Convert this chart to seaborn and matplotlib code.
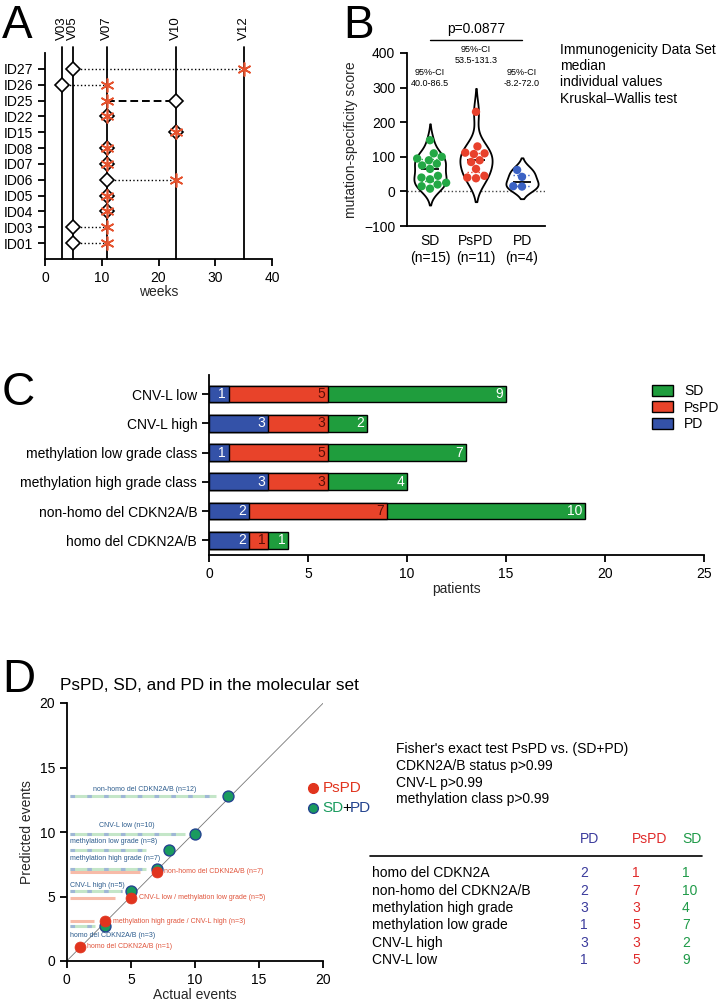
import matplotlib.pyplot as plt
import numpy as np
import pandas as pd
import seaborn as sns
from matplotlib.lines import Line2D
from matplotlib.patches import Patch

# ==========================================================
# Data
# ==========================================================

# Panel A: visit timeline per patient
patient_ids = ["ID01", "ID03", "ID04", "ID05", "ID06", "ID07",
               "ID08", "ID15", "ID22", "ID25", "ID26", "ID27"]
diamond_weeks = [5, 5, 11, 11, 11, 11, 11, 23, 11, 23, 3, 5]
star_weeks = [11, 11, 11, 11, 23, 11, 11, 23, 11, 11, 11, 35]
visit_names = ["V03", "V05", "V07", "V10", "V12"]
visit_weeks = [3, 5, 11, 23, 35]

# Panel B: mutation-specificity score
b_groups = ["SD", "PsPD", "PD"]
b_counts = [15, 11, 4]
sd_scores = [148, 110, 100, 95, 90, 80, 75, 65, 45, 40, 35, 25, 20, 15, 8]
pspd_scores = [230, 130, 112, 110, 108, 90, 85, 65, 45, 40, 38]
pd_scores = [62, 42, 15, 14]
b_ci = ["95%-CI\n40.0-86.5", "95%-CI\n53.5-131.3", "95%-CI\n-8.2-72.0"]
b_ci_height = [327, 394, 327]
b_pvalue = "p=0.0877"
b_notes = ["Immunogenicity Data Set", "median", "individual values",
           "Kruskal\u2013Wallis test"]

# Panel C: stacked patient counts
c_categories = ["CNV-L low", "CNV-L high", "methylation low grade class",
                "methylation high grade class", "non-homo del CDKN2A/B",
                "homo del CDKN2A/B"]
c_pd = [1, 3, 1, 3, 2, 2]
c_pspd = [5, 3, 5, 3, 7, 1]
c_sd = [9, 2, 7, 4, 10, 1]

# Panel D: predicted vs actual events
d_pspd_actual = [1, 3, 5, 7]
d_pspd_pred = [1.1, 3.1, 4.9, 6.9]
d_pspd_line_end = [1.0, 2.1, 3.8, 5.7]
d_pspd_labels = ["homo del CDKN2A/B (n=1)",
                 "methylation high grade / CNV-L high (n=3)",
                 "CNV-L low / methylation low grade (n=5)",
                 "non-homo del CDKN2A/B (n=7)"]
d_sdpd_actual = [3, 5, 7, 8, 10, 12.6]
d_sdpd_pred = [2.7, 5.4, 7.1, 8.6, 9.85, 12.8]
d_sdpd_line_end = [2.2, 4.3, 6.2, 6.2, 9.2, 11.6]
d_sdpd_labels = ["homo del CDKN2A/B (n=3)", "CNV-L high (n=5)",
                 "methylation high grade (n=7)", "methylation low grade (n=8)",
                 "CNV-L low (n=10)", "non-homo del CDKN2A/B (n=12)"]
d_fisher = ["Fisher's exact test PsPD vs. (SD+PD)", "CDKN2A/B status p>0.99",
            "CNV-L p>0.99", "methylation class p>0.99"]

# Table
t_rows = ["homo del CDKN2A", "non-homo del CDKN2A/B", "methylation high grade",
          "methylation low grade", "CNV-L high", "CNV-L low"]
t_pd = [2, 2, 3, 1, 3, 1]
t_pspd = [1, 7, 3, 5, 3, 5]
t_sd = [1, 10, 4, 7, 2, 9]

# ==========================================================
# Style
# ==========================================================

FIG_W, FIG_H = 722, 1007

sns.set_style("ticks")
plt.rcParams["font.family"] = ["Liberation Sans", "DejaVu Sans"]
plt.rcParams["axes.linewidth"] = 1.3
plt.rcParams["xtick.major.width"] = 1.3
plt.rcParams["ytick.major.width"] = 1.3
plt.rcParams["xtick.major.size"] = 5
plt.rcParams["ytick.major.size"] = 5
plt.rcParams["xtick.labelsize"] = 10
plt.rcParams["ytick.labelsize"] = 10
plt.rcParams["axes.labelsize"] = 10
plt.rcParams["text.color"] = "black"
plt.rcParams["xtick.color"] = "black"
plt.rcParams["ytick.color"] = "black"
plt.rcParams["axes.edgecolor"] = "black"

GREEN_B, RED_B, BLUE_B = "#23a845", "#e8412c", "#3b62c4"
GREEN_C, RED_C, BLUE_C = "#1f9d3d", "#e8432a", "#3452a8"
STAR_RED = "#e5532f"
D_RED, D_GREEN, D_EDGE = "#e1341e", "#1a9b5e", "#23438f"
T_PD, T_PSPD, T_SD = "#3b3b9c", "#e02a2a", "#1f9a48"


def add_axes_px(fig, left, top, right, bottom):
    return fig.add_axes([left / FIG_W, 1 - bottom / FIG_H,
                         (right - left) / FIG_W, (bottom - top) / FIG_H])


def fig_xy(x, y):
    return x / FIG_W, 1 - y / FIG_H


def panel_label(fig, x, y, letter):
    fig.text(*fig_xy(x, y), letter, fontsize=33, va="baseline", ha="left")


fig = plt.figure(figsize=(FIG_W / 100, FIG_H / 100), dpi=100)

# ==========================================================
# Panel A
# ==========================================================

ax = add_axes_px(fig, 45, 53, 272, 259)
ypos = np.arange(1, len(patient_ids) + 1)

for week, name in zip(visit_weeks, visit_names):
    ax.plot([week, week], [0, 13.4], color="black", lw=1.3,
            clip_on=False, zorder=1)
    ax.text(week, 13.85, name, rotation=90, ha="center", va="bottom",
            fontsize=9.5)

for y, d, s in zip(ypos, diamond_weeks, star_weeks):
    if d < s:
        ax.plot([d, s], [y, y], color="black", lw=1, ls=":", zorder=2)
    elif d > s:
        ax.plot([s, d], [y, y], color="black", lw=1.4, ls=(0, (4, 2)),
                zorder=2)

ax.plot(diamond_weeks, ypos, "D", ms=7, mfc="white", mec="black",
        mew=1.2, ls="none", zorder=3)
ax.plot(star_weeks, ypos, marker=(6, 2, 0), ms=10, color=STAR_RED,
        mew=1.2, ls="none", zorder=4)

ax.set_xlim(0, 40)
ax.set_ylim(0, 13)
ax.set_xticks([0, 10, 20, 30, 40])
ax.set_yticks(ypos)
ax.set_yticklabels(patient_ids)
ax.set_xlabel("weeks", labelpad=0)
sns.despine(ax=ax)
panel_label(fig, 2, 38, "A")

# ==========================================================
# Panel B
# ==========================================================

b_values = [sd_scores, pspd_scores, pd_scores]
b_colors = [GREEN_B, RED_B, BLUE_B]
df_b = pd.DataFrame({
    "group": np.repeat(b_groups, [len(v) for v in b_values]),
    "score": np.concatenate(b_values),
})

ax = add_axes_px(fig, 407, 53, 545, 226)
ax.axhline(0, color="#444444", ls=":", lw=1, zorder=0)
sns.violinplot(data=df_b, x="group", y="score", order=b_groups,
               color="white", linecolor="black", linewidth=1.3,
               inner=None, density_norm="width", width=0.7, ax=ax)
for i, vals in enumerate(b_values):
    q1, med, q3 = np.percentile(vals, [25, 50, 75])
    ax.hlines(med, i - 0.2, i + 0.2, color="black", lw=1.3, zorder=3)
    ax.hlines([q1, q3], i - 0.2, i + 0.2, color=b_colors[i], lw=1,
              ls=":", zorder=3)
sns.swarmplot(data=df_b, x="group", y="score", order=b_groups,
              hue="group", palette=b_colors, size=6, legend=False,
              ax=ax, zorder=4)

ax.set_xlim(-0.5, 2.5)
ax.set_ylim(-100, 400)
ax.set_yticks([-100, 0, 100, 200, 300, 400])
ax.set_xticks(range(len(b_groups)))
ax.set_xticklabels([f"{g}\n(n={n})" for g, n in zip(b_groups, b_counts)])
ax.tick_params(axis="x", length=0, pad=6)
ax.set_xlabel("")
ax.set_ylabel("mutation-specificity score", labelpad=4)
sns.despine(ax=ax)

ax.plot([0, 2], [438, 438], color="black", lw=1, clip_on=False)
ax.text(1, 458, b_pvalue, ha="center", va="baseline", fontsize=10)
for i, (txt, h) in enumerate(zip(b_ci, b_ci_height)):
    ax.text(i, h, txt, ha="center", va="center", fontsize=6.5,
            linespacing=1.25)

fig.text(*fig_xy(560, 43), "\n".join(b_notes), fontsize=10, va="top",
         ha="left", linespacing=1.2)
panel_label(fig, 343, 38, "B")

# ==========================================================
# Panel C
# ==========================================================

ax = add_axes_px(fig, 209, 375, 704, 555)
c_pd_arr = np.array(c_pd)
c_mid = c_pd_arr + np.array(c_pspd)
c_total = c_mid + np.array(c_sd)
df_c = pd.DataFrame({"category": c_categories, "pd": c_pd_arr,
                     "mid": c_mid, "total": c_total})

for col, color in [("total", GREEN_C), ("mid", RED_C), ("pd", BLUE_C)]:
    sns.barplot(data=df_c, x=col, y="category", orient="h", color=color,
                saturation=1, edgecolor="black", linewidth=1, width=0.57,
                ax=ax)

for i in range(len(c_categories)):
    ax.text(c_pd[i] - 0.15, i, str(c_pd[i]), ha="right", va="center",
            color="white", fontsize=10)
    ax.text(c_mid[i] - 0.15, i, str(c_pspd[i]), ha="right", va="center",
            color="#5a0d05", fontsize=10)
    ax.text(c_total[i] - 0.15, i, str(c_sd[i]), ha="right", va="center",
            color="white", fontsize=10)

ax.set_xlim(0, 25)
ax.set_ylim(5.5, -0.65)
ax.set_xticks([0, 5, 10, 15, 20, 25])
ax.set_xlabel("patients", labelpad=1)
ax.set_ylabel("")
sns.despine(ax=ax)

c_handles = [Patch(facecolor=GREEN_C, edgecolor="black", label="SD"),
             Patch(facecolor=RED_C, edgecolor="black", label="PsPD"),
             Patch(facecolor=BLUE_C, edgecolor="black", label="PD")]
fig.legend(handles=c_handles, loc="upper left",
           bbox_to_anchor=fig_xy(645, 377), frameon=False, fontsize=10,
           handlelength=1.5, handleheight=0.85, labelspacing=0.2,
           handletextpad=0.8, borderpad=0)
panel_label(fig, 2, 405, "C")

# ==========================================================
# Panel D
# ==========================================================

ax = add_axes_px(fig, 66.7, 703, 323.3, 961)
ax.plot([0, 20], [0, 20], color="#777777", lw=0.6, zorder=1)

sdpd_label_x = [0.25, 0.25, 0.25, 0.25, 2.5, 2.05]
sdpd_label_y = [1.96, 5.85, 7.95, 9.3, 10.5, 13.3]
for y, x_end, lab, lx, ly in zip(d_sdpd_pred, d_sdpd_line_end,
                                 d_sdpd_labels, sdpd_label_x, sdpd_label_y):
    ax.plot([0.25, x_end], [y, y], color="#c4e6c8", lw=2.2,
            solid_capstyle="butt", zorder=1)
    ax.plot([0.25, x_end], [y, y], color="#9fb7d6", lw=2.2,
            ls=(0, (1.5, 4)), zorder=1)
    ax.text(lx, ly, lab, fontsize=5, color="#2a5a8c", va="center",
            ha="left")

pspd_line_start = [0.65, 0.25, 0.25, 0.25]
for y, x0, x_end in zip(d_pspd_pred, pspd_line_start, d_pspd_line_end):
    ax.plot([x0, x_end], [y, y], color="#f7bba8", lw=2.2,
            solid_capstyle="butt", zorder=1)
for x, y, lab in zip(d_pspd_actual, d_pspd_pred, d_pspd_labels):
    ax.text(x + 0.6, y, lab, fontsize=5, color="#e0533a", va="center",
            ha="left")

sns.scatterplot(x=d_sdpd_actual, y=d_sdpd_pred, color=D_GREEN,
                edgecolor=D_EDGE, linewidth=1, s=62, ax=ax, zorder=4)
sns.scatterplot(x=d_pspd_actual, y=d_pspd_pred, color=D_RED,
                edgecolor=D_RED, linewidth=0.5, s=62, ax=ax, zorder=5)

ax.set_xlim(0, 20)
ax.set_ylim(0, 20)
ax.set_xticks([0, 5, 10, 15, 20])
ax.set_yticks([0, 5, 10, 15, 20])
ax.set_xlabel("Actual events", labelpad=1)
ax.set_ylabel("Predicted events", labelpad=4)
sns.despine(ax=ax)

# legend of panel D
ax.plot([19.2], [13.4], "o", ms=7, color=D_RED, clip_on=False)
ax.plot([19.2], [11.85], "o", ms=7, mfc=D_GREEN, mec=D_EDGE, mew=1,
        clip_on=False)
ax.text(19.95, 13.4, "PsPD", color=D_RED, fontsize=11, va="center",
        ha="left")
renderer = fig.canvas.get_renderer()
x_text = 19.95
for part, color in [("SD", D_GREEN), ("+", "black"), ("PD", D_EDGE)]:
    t = ax.text(x_text, 11.85, part, color=color, fontsize=11,
                va="center", ha="left")
    bb = t.get_window_extent(renderer=renderer)
    x_text += bb.width / ax.bbox.width * 20 - 0.12

fig.text(*fig_xy(60, 686), "PsPD, SD, and PD in the molecular set",
         fontsize=12.4, va="center", ha="left")
fig.text(*fig_xy(396, 742), "\n".join(d_fisher), fontsize=10, va="top",
         ha="left", linespacing=1.25)

# table
header_y = 839
for x, txt, color in [(580, "PD", T_PD), (632, "PsPD", T_PSPD),
                      (682, "SD", T_SD)]:
    fig.text(*fig_xy(x, header_y), txt, color=color, fontsize=10,
             va="center", ha="left")
fig.add_artist(Line2D([370 / FIG_W, 702 / FIG_W],
                      [1 - 856 / FIG_H, 1 - 856 / FIG_H],
                      color="black", lw=1.2))
for i, row in enumerate(t_rows):
    y = 873.3 + i * 17.35
    fig.text(*fig_xy(372.5, y), row, fontsize=10, va="center", ha="left")
    fig.text(*fig_xy(580, y), str(t_pd[i]), color=T_PD, fontsize=10,
             va="center", ha="left")
    fig.text(*fig_xy(632, y), str(t_pspd[i]), color=T_PSPD, fontsize=10,
             va="center", ha="left")
    fig.text(*fig_xy(682, y), str(t_sd[i]), color=T_SD, fontsize=10,
             va="center", ha="left")

panel_label(fig, 2, 692, "D")

fig.savefig("out.png", dpi=100)
